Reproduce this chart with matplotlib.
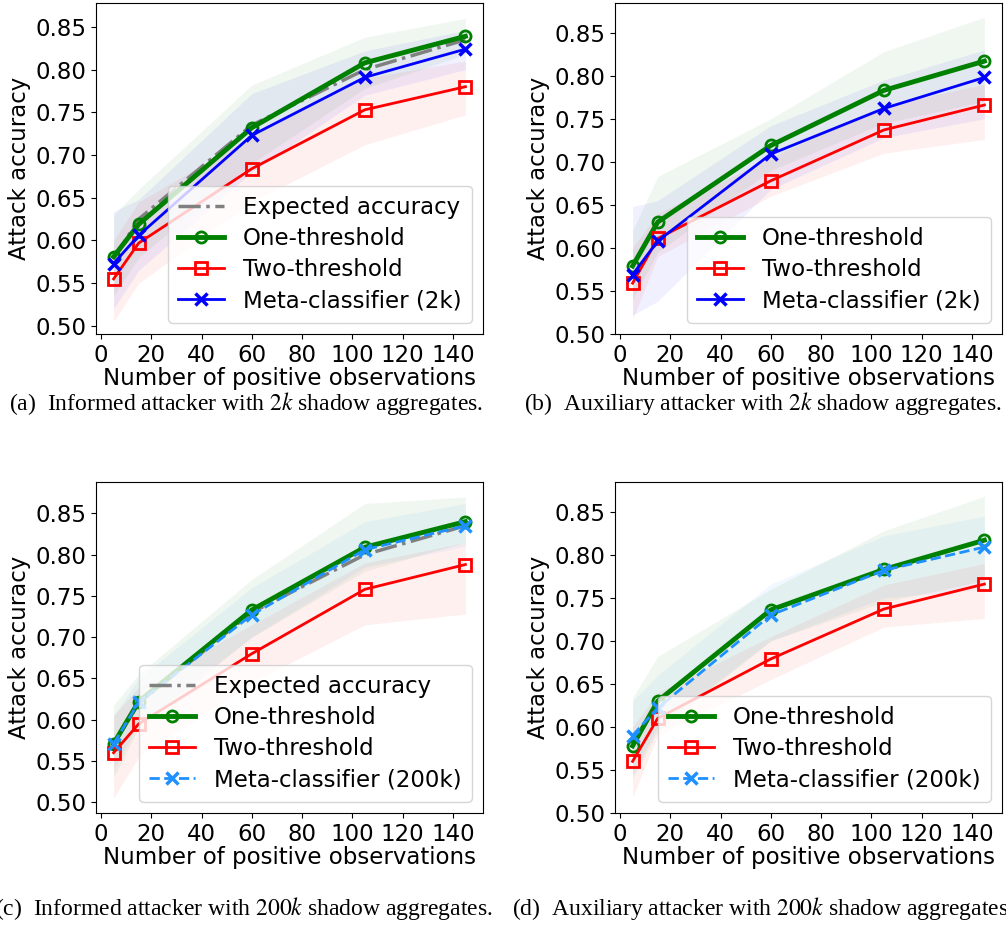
import numpy as np
import matplotlib
matplotlib.use('Agg')
import matplotlib.pyplot as plt

plt.rcParams['mathtext.fontset'] = 'stix'

X = [5, 15, 60, 105, 145]

# (a) informed, 2k
a_exp = [0.578, 0.625, 0.735, 0.800, 0.835]
a_one = [0.581, 0.619, 0.732, 0.808, 0.839]
a_two = [0.555, 0.597, 0.684, 0.753, 0.780]
a_meta = [0.573, 0.606, 0.723, 0.791, 0.824]
a_one_lo = [0.535, 0.580, 0.690, 0.778, 0.818]
a_one_hi = [0.630, 0.660, 0.782, 0.838, 0.860]
a_two_lo = [0.505, 0.550, 0.645, 0.712, 0.747]
a_two_hi = [0.600, 0.645, 0.722, 0.790, 0.810]
a_meta_lo = [0.520, 0.565, 0.680, 0.770, 0.800]
a_meta_hi = [0.634, 0.648, 0.772, 0.822, 0.846]

# (b) auxiliary, 2k
b_one = [0.579, 0.630, 0.719, 0.783, 0.817]
b_two = [0.559, 0.611, 0.678, 0.737, 0.766]
b_meta = [0.569, 0.608, 0.709, 0.762, 0.798]
b_one_lo = [0.540, 0.595, 0.690, 0.745, 0.770]
b_one_hi = [0.620, 0.683, 0.750, 0.828, 0.868]
b_two_lo = [0.517, 0.590, 0.660, 0.710, 0.726]
b_two_hi = [0.600, 0.640, 0.705, 0.765, 0.790]
b_meta_lo = [0.522, 0.538, 0.668, 0.728, 0.750]
b_meta_hi = [0.648, 0.655, 0.742, 0.795, 0.830]

# (c) informed, 200k
c_exp = [0.570, 0.620, 0.730, 0.800, 0.835]
c_one = [0.571, 0.622, 0.733, 0.809, 0.840]
c_two = [0.560, 0.595, 0.680, 0.758, 0.788]
c_meta = [0.571, 0.621, 0.727, 0.806, 0.835]
c_one_lo = [0.530, 0.590, 0.700, 0.780, 0.815]
c_one_hi = [0.618, 0.655, 0.770, 0.862, 0.870]
c_two_lo = [0.505, 0.555, 0.645, 0.715, 0.728]
c_two_hi = [0.605, 0.640, 0.715, 0.790, 0.815]
c_meta_lo = [0.540, 0.595, 0.700, 0.785, 0.810]
c_meta_hi = [0.605, 0.650, 0.760, 0.840, 0.862]

# (d) auxiliary, 200k
d_one = [0.578, 0.630, 0.736, 0.783, 0.817]
d_two = [0.560, 0.610, 0.679, 0.737, 0.766]
d_meta = [0.590, 0.622, 0.730, 0.782, 0.809]
d_one_lo = [0.540, 0.595, 0.700, 0.745, 0.770]
d_one_hi = [0.634, 0.682, 0.760, 0.828, 0.868]
d_two_lo = [0.518, 0.590, 0.655, 0.716, 0.726]
d_two_hi = [0.600, 0.640, 0.705, 0.765, 0.790]
d_meta_lo = [0.545, 0.600, 0.700, 0.750, 0.760]
d_meta_hi = [0.630, 0.660, 0.766, 0.822, 0.845]

CAPTIONS = [r'(a)  Informed attacker with $2k$ shadow aggregates.',
            r'(b)  Auxiliary attacker with $2k$ shadow aggregates.',
            r'(c)  Informed attacker with $200k$ shadow aggregates.',
            r'(d)  Auxiliary attacker with $200k$ shadow aggregates.']

FS = 16.5
W, H = 1006, 926
fig = plt.figure(figsize=(W / 100, H / 100), dpi=100)


def add_ax(left, top, w, h):
    return fig.add_axes([left / W, (H - top - h) / H, w / W, h / H])


def panel(ax, exp, one, two, meta, bands, meta_label, dashed, ylim):
    (olo, ohi), (tlo, thi), (mlo, mhi) = bands
    mcol = 'dodgerblue' if dashed else 'blue'
    ax.fill_between(X, olo, ohi, color='green', alpha=0.06, lw=0)
    ax.fill_between(X, tlo, thi, color='red', alpha=0.06, lw=0)
    ax.fill_between(X, mlo, mhi, color=mcol, alpha=0.06, lw=0)
    if exp is not None:
        ax.plot(X, exp, color='gray', ls='-.', lw=2.5, label='Expected accuracy')
    ax.plot(X, one, color='green', lw=3.5, marker='o', ms=8, mfc='none', mew=2,
            label='One-threshold')
    ax.plot(X, two, color='red', lw=2, marker='s', ms=8, mfc='none', mew=2,
            label='Two-threshold')
    ax.plot(X, meta, color=mcol, lw=2, ls='--' if dashed else '-', marker='x',
            ms=8, mew=2.5, label=meta_label)
    ax.set_xlim(-2, 152)
    ax.set_ylim(*ylim)
    ax.set_xticks(range(0, 141, 20))
    ax.set_yticks(np.arange(0.50, 0.851, 0.05))
    ax.tick_params(labelsize=FS)
    ax.set_xlabel('Number of positive observations', fontsize=FS, labelpad=0)
    ax.set_ylabel('Attack accuracy', fontsize=FS, labelpad=3)
    ax.legend(loc='lower right', fontsize=FS, handlelength=2.0,
              borderpad=0.45, labelspacing=0.35)


axa = add_ax(96, 3, 387, 331)
panel(axa, a_exp, a_one, a_two, a_meta,
      [(a_one_lo, a_one_hi), (a_two_lo, a_two_hi), (a_meta_lo, a_meta_hi)],
      'Meta-classifier (2k)', False, (0.4905, 0.878))

axb = add_ax(615, 3, 387, 331)
panel(axb, None, b_one, b_two, b_meta,
      [(b_one_lo, b_one_hi), (b_two_lo, b_two_hi), (b_meta_lo, b_meta_hi)],
      'Meta-classifier (2k)', False, (0.50, 0.8845))

axc = add_ax(96, 482, 387, 331)
panel(axc, c_exp, c_one, c_two, c_meta,
      [(c_one_lo, c_one_hi), (c_two_lo, c_two_hi), (c_meta_lo, c_meta_hi)],
      'Meta-classifier (200k)', True, (0.487, 0.888))

axd = add_ax(615, 482, 387, 331)
panel(axd, None, d_one, d_two, d_meta,
      [(d_one_lo, d_one_hi), (d_two_lo, d_two_hi), (d_meta_lo, d_meta_hi)],
      'Meta-classifier (200k)', True, (0.503, 0.8846))

for (cx, cy), txt in zip([(246, 403), (763, 403), (244, 908), (763, 908)], CAPTIONS):
    fig.text(cx / W, 1 - cy / H, txt, ha='center', va='center', fontsize=17,
             family='Liberation Serif')

fig.savefig('out.png', dpi=100)
